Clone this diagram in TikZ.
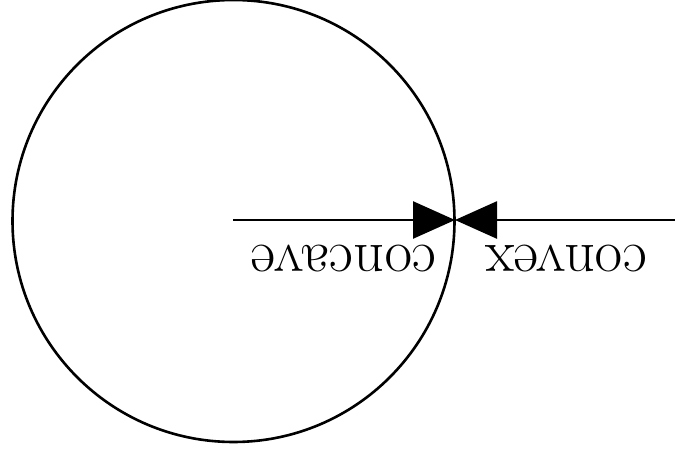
\documentclass[tikz,border=0pt]{standalone}
\usetikzlibrary{arrows.meta}
\begin{document}
\begin{tikzpicture}[x=1pt,y=-1pt,line width=2.6pt,
  tip/.style={-{Triangle[length=42pt,width=37pt]}},
  lab/.style={rotate=180,inner sep=0pt,font=\fontsize{60}{66}\selectfont}]
\useasboundingbox (0,0) rectangle (675,452);
\coordinate (c) at (233.5,221);
\coordinate (p) at (455,220);
\coordinate (r) at (675,220);
\node[draw,circle,minimum size=442pt,inner sep=0pt] (circ) at (c) {};
\coordinate (cl) at (233,220);
\draw[tip] (cl) -- (p);
\draw[tip] (r) -- (p);
\node[lab] (concave) at (344,258.5) {concave};
\node[lab] (convex) at (566,258.5) {convex};
\end{tikzpicture}
\end{document}
